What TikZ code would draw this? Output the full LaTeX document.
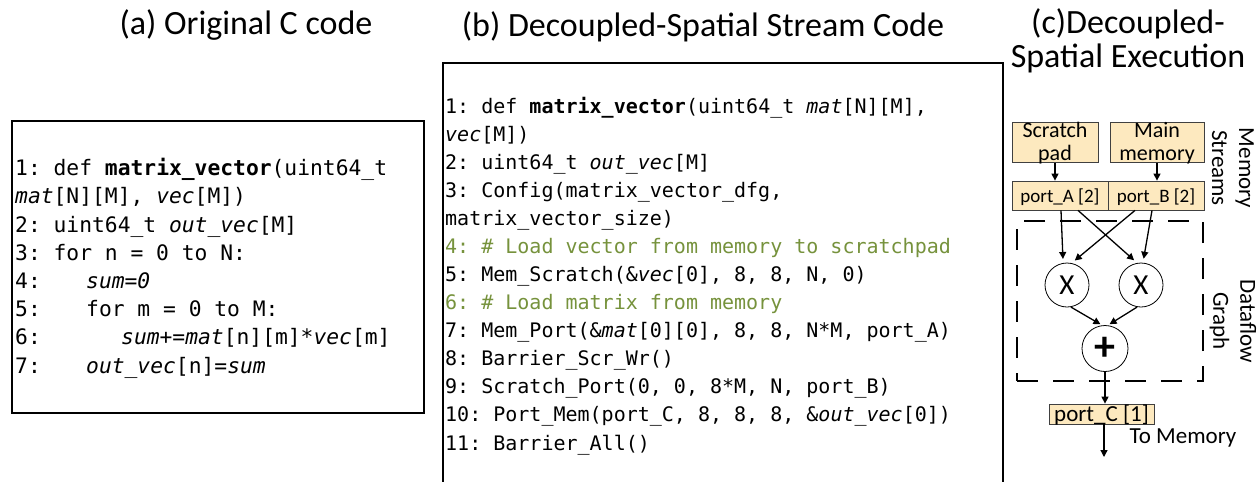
\documentclass[tikz,border=0pt]{standalone}
\usepackage{fontspec}
\setmainfont{Carlito}
\setmonofont{DejaVu Sans Mono}
\usetikzlibrary{calc, positioning, arrows.meta}
\definecolor{CodeGreen}{HTML}{76923C}
\definecolor{StreamFill}{HTML}{FDE9BF}
\definecolor{StreamEdge}{HTML}{404040}

\begin{document}
\begin{tikzpicture}[
  x=1pt, y=-1pt,
  title/.style={font=\fontsize{34}{34}\selectfont, inner sep=0pt, align=center, anchor=base},
  codea/.style={font=\fontsize{21.3}{28.2}\selectfont\ttfamily, inner sep=0pt, align=left, anchor=base west},
  codeb/.style={font=\fontsize{20}{28.06}\selectfont\ttfamily, inner sep=0pt, align=left, anchor=base west},
  frame/.style={draw=black, line width=1.3pt},
  stream/.style={rectangle, draw=StreamEdge, fill=StreamFill, line width=0.8pt, inner sep=0pt, align=center, text depth=0pt},
  memory/.style={stream, minimum height=40pt, font=\fontsize{22}{22.5}\selectfont, text height=35pt},
  port/.style={stream, minimum width=96pt, minimum height=29pt, font=\fontsize{19}{19}\selectfont, text height=14pt},
  op/.style={circle, draw=black, line width=0.8pt, inner sep=0pt, minimum size=44pt, font=\fontsize{29}{29}\selectfont},
  side/.style={font=\fontsize{23}{27}\selectfont, inner sep=0pt, align=center, rotate=-90},
  arrow/.style={-{Triangle[length=7pt,width=7pt]}, line width=1.3pt, black}
]
  \useasboundingbox (0,0) rectangle (1259,482);

  % titles
  \node[title] (tita) at (246,34) {(a) Original C code};
  \node[title] (titb) at (703,36) {(b) Decoupled-Spatial Stream Code};
  \node[title] (titc) at (1128,67) {(c)Decoupled-\\Spatial Execution};

  % (a) original code
  \draw[frame] (12,121) rectangle (424,413);
  \node[codea] (srca) at (15,373.1) {1: def \textbf{matrix\_vector}(uint64\_t\\
    \textit{mat}[N][M], \textit{vec}[M])\\
    2: uint64\_t \textit{out\_vec}[M]\\
    3: for n = 0 to N:\\
    \makebox[71pt][l]{4:}\textit{sum=0}\\
    \makebox[71pt][l]{5:}for m = 0 to M:\\
    \makebox[106pt][l]{6:}\textit{sum+=mat}[n][m]*\textit{vec}[m]\\
    \makebox[71pt][l]{7:}\textit{out\_vec}[n]=\textit{sum}};

  % (b) stream code
  \draw[frame] (443,482) |- (1003,63) -- (1003,482);
  \node[codeb] (srcb) at (445,450) {1: def \textbf{matrix\_vector}(uint64\_t \textit{mat}[N][M],\\
    \textit{vec}[M])\\
    2: uint64\_t \textit{out\_vec}[M]\\
    3: Config(matrix\_vector\_dfg,\\
    matrix\_vector\_size)\\
    {\color{CodeGreen}4: \# Load vector from memory to scratchpad}\\
    5: Mem\_Scratch(\&\textit{vec}[0], 8, 8, N, 0)\\
    {\color{CodeGreen}6: \# Load matrix from memory}\\
    7: Mem\_Port(\&\textit{mat}[0][0], 8, 8, N*M, port\_A)\\
    8: Barrier\_Scr\_Wr()\\
    9: Scratch\_Port(0, 0, 8*M, N, port\_B)\\
    10: Port\_Mem(port\_C, 8, 8, 8, \&\textit{out\_vec}[0])\\
    11: Barrier\_All()};

  % (c) execution
  \node[draw, dash pattern=on 21pt off 15pt, line width=2.5pt, minimum width=186pt, minimum height=160pt, inner sep=0pt] (dfg) at (1110,301) {};
  \node[memory, minimum width=86pt] (scr) at (1055,142.5) {Scratch\\pad};
  \node[memory, minimum width=94pt] (mainm) at (1157,142.5) {Main\\memory};
  \node[port] (porta) at (1060,195.5) {port\_A [2]};
  \node[port] (portb) at (1156,195.5) {port\_B [2]};
  \node[op] (xl) at (1067,285) {X};
  \node[op] (xr) at (1141,285) {X};
  \node[op, minimum size=46pt, font=\fontsize{42}{42}\selectfont\bfseries] (plus) at (1105,348.5) {+};
  \node[stream, minimum width=105pt, minimum height=20pt, font=\fontsize{23}{23}\selectfont, text height=15.4pt] (portc) at (1101.5,414) {port\_C [1]};
  \coordinate (tomemend) at (1104,457);
  \node[font=\fontsize{23}{23}\selectfont, inner sep=0pt] (tomem) at (1183,438) {To Memory};
  \node[side] (memlbl) at (1233,168) {Memory\\Streams};
  \node[side] (dfglbl) at (1233,321) {Dataflow\\Graph};

  \draw[arrow] (scr.south) -- (scr.south |- porta.north);
  \draw[arrow] (mainm.south) -- (mainm.south |- portb.north);
  \draw[arrow, shorten >=4pt] ($(porta.south)+(1,0)$) -- (xl.100);
  \draw[arrow, shorten >=4pt] ($(porta.south)+(18,0)$) -- (xr.100);
  \draw[arrow, shorten >=4pt] ($(portb.south)+(-21,0)$) -- (xl.78);
  \draw[arrow, shorten >=4pt] ($(portb.south)+(-4,0)$) -- (xr.85);
  \draw[arrow, shorten >=2pt] (xl.-80) -- (plus.97);
  \draw[arrow, shorten >=2pt] (xr.-100) -- (plus.83);
  \draw[arrow] (plus.south) -- (plus.south |- portc.north);
  \draw[arrow] (portc.south -| tomemend) -- (tomemend);
\end{tikzpicture}
\end{document}
